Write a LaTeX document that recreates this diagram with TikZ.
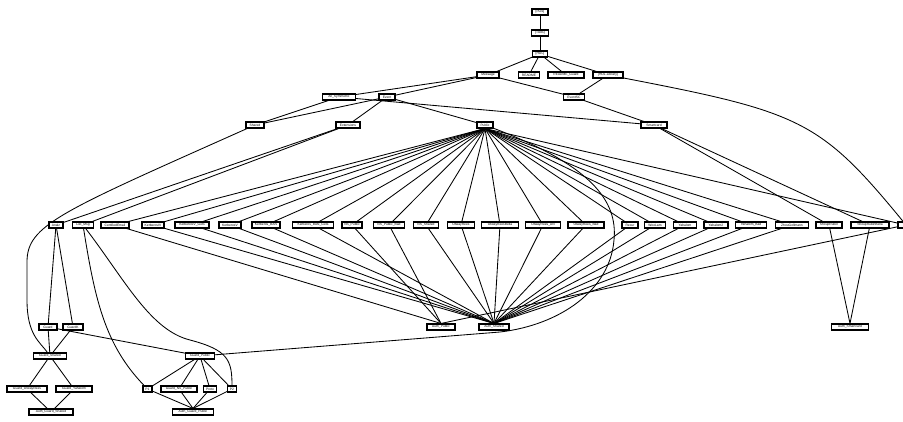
\documentclass[tikz,border=0pt]{standalone}
\usepackage{fontspec}
\setsansfont{Liberation Sans}
\usetikzlibrary{backgrounds}
\begin{document}
\begin{tikzpicture}[x=1pt,y=-1pt,
  nd/.style={draw, fill=white, line width=1.1pt, inner sep=0pt, minimum height=6pt,
    font=\fontsize{3.3}{3.3}\selectfont\sffamily},
  ed/.style={line width=0.85pt}]
\useasboundingbox (0,0) rectangle (903,421);
\clip (0,0) rectangle (903,421);
% top
\node[nd,minimum width=16pt] (Pure) at (540,12) {[Pure]};
\node[nd,minimum width=17pt] (Tools) at (540,33) {[Tools]};
\node[nd,minimum width=15pt] (HOL) at (540,54) {[HOL]};
\node[nd,minimum width=22pt] (Message) at (488,75) {Message};
\node[nd,minimum width=21pt] (README) at (529,75) {README};
\node[nd,minimum width=36pt] (READMEG) at (566,75) {README\_Guard};
\node[nd,minimum width=30pt] (HOLLib) at (608,75) {[HOL-Library]};
\node[nd,minimum width=33pt] (AllSym) at (339,97) {All\_Symmetric};
\node[nd,minimum width=16pt] (Event) at (387,97) {Event};
\node[nd,minimum width=21pt] (EventSC) at (574,97) {EventSC};
\node[nd,minimum width=18pt] (Shared) at (255,125) {Shared};
\node[nd,minimum width=24pt] (Ext) at (348,125) {Extensions};
\node[nd,minimum width=16pt] (Public) at (485,125) {Public};
\node[nd,minimum width=26pt] (Smartcard) at (654,125) {Smartcard};
% middle row
\node[nd,minimum width=14pt] (Analz) at (56,225) {Analz};
\node[nd,minimum width=21pt] (ListMsg) at (83,225) {List\_Msg};
\node[nd,minimum width=28pt] (CE) at (115,225) {CertifiedEmail};
\node[nd,minimum width=22pt] (KIV) at (153,225) {KerberosIV};
\node[nd,minimum width=34pt] (KIVG) at (192,225) {KerberosIV\_Gets};
\node[nd,minimum width=22pt] (KV) at (230,225) {KerberosV};
\node[nd,minimum width=28pt] (KB) at (266,225) {Kerberos\_BAN};
\node[nd,minimum width=41pt] (KBG) at (313,225) {Kerberos\_BAN\_Gets};
\node[nd,minimum width=20pt] (NSP) at (352,225) {NS\_Public};
\node[nd,minimum width=31pt] (NSPB) at (389,225) {NS\_Public\_Bad};
\node[nd,minimum width=25pt] (NSS) at (426,225) {NS\_Shared};
\node[nd,minimum width=27pt] (OR) at (461,225) {OtwayRees};
\node[nd,minimum width=37pt] (ORB) at (500,225) {OtwayReesBella};
\node[nd,minimum width=35pt] (ORAN) at (543,225) {OtwayRees\_AN};
\node[nd,minimum width=36pt] (ORBad) at (586,225) {OtwayRees\_Bad};
\node[nd,minimum width=16pt] (Recur) at (630,225) {Recur};
\node[nd,minimum width=21pt] (WL) at (655,225) {WooLam};
\node[nd,minimum width=23pt] (Ya) at (685,225) {Yahalom};
\node[nd,minimum width=24pt] (Ya2) at (716,225) {Yahalom2};
\node[nd,minimum width=31pt] (YaB) at (751,225) {Yahalom\_Bad};
\node[nd,minimum width=33pt] (ZG) at (792,225) {ZhouGollmann};
\node[nd,minimum width=26pt] (SR) at (829,225) {ShoupRubin};
\node[nd,minimum width=38pt] (SRB) at (870,225) {ShoupRubinBella};
\node[nd,minimum width=16pt] (TLS) at (906,225) {TLS};
% lower
\node[nd,minimum width=18pt] (Guard) at (48,327) {Guard};
\node[nd,minimum width=20pt] (GuardK) at (73,327) {GuardK};
\node[nd,minimum width=28pt] (AuthPublic) at (441,327) {Auth\_Public};
\node[nd,minimum width=30pt] (AuthShared) at (494,327) {Auth\_Shared};
\node[nd,minimum width=37pt] (AuthSC) at (850,327) {Auth\_Smartcard};
\node[nd,minimum width=33pt] (GShared) at (50,356) {Guard\_Shared};
\node[nd,minimum width=29pt] (GPublic) at (200,356) {Guard\_Public};
\node[nd,minimum width=40pt] (GOR) at (27,389) {Guard\_OtwayRees};
\node[nd,minimum width=36pt] (GYa) at (74,389) {Guard\_Yahalom};
\node[nd,minimum width=9pt] (P1) at (147.5,389) {P1};
\node[nd,minimum width=36pt] (GNSP) at (179,389) {Guard\_NS\_Public};
\node[nd,minimum width=13pt] (Proto) at (210,389) {Proto};
\node[nd,minimum width=9pt] (P2) at (232,389) {P2};
\node[nd,minimum width=44pt] (AGS) at (51,412) {Auth\_Guard\_Shared};
\node[nd,minimum width=41pt] (AGP) at (193,412) {Auth\_Guard\_Public};
\begin{scope}[on background layer]
\draw[ed] (Pure) -- (Tools);
\draw[ed] (Tools) -- (HOL);
\foreach \t in {Message,README,READMEG,HOLLib} \draw[ed] (HOL) -- (\t);
\foreach \t in {AllSym,Event,EventSC} \draw[ed] (Message) -- (\t);
\draw[ed] (HOLLib) -- (EventSC);
\draw[ed] (HOLLib) .. controls (800,112) and (820,120) .. (TLS);
\draw[ed] (AllSym) -- (Shared);
\draw[ed] (Event) -- (Shared);
\draw[ed] (AllSym) -- (Smartcard);
\draw[ed] (Event) -- (Ext);
\draw[ed] (Event) -- (Public);
\draw[ed] (EventSC) -- (Smartcard);
\draw[ed] (Shared) .. controls (60,212) and (27,225) .. (27,262) -- (27,300) .. controls (27,335) and (40,342) .. (GShared);
\draw[ed] (Ext) -- (Analz);
\draw[ed] (Ext) -- (ListMsg);
\foreach \t in {CE,KIV,KIVG,KV,KB,KBG,NSP,NSPB,NSS,OR,ORB,ORAN,ORBad,Recur,WL,Ya,Ya2,YaB,ZG,TLS}
  \draw[ed] (Public.south) -- (\t);
\draw[ed] (Public) .. controls (590,165) and (618,200) .. (614,240) .. controls (610,290) and (560,325) .. (500,332) -- (GPublic);
\draw[ed] (Smartcard) -- (SR);
\draw[ed] (Smartcard) -- (SRB);
\foreach \t in {CE,NSP,NSPB,TLS} \draw[ed] (\t) -- (AuthPublic.north);
\foreach \t in {KIV,KIVG,KV,KB,KBG,NSS,OR,ORB,ORAN,ORBad,Recur,WL,Ya,Ya2,YaB,ZG}
  \draw[ed] (\t) -- (AuthShared.north);
\draw[ed] (SR) -- (AuthSC.north);
\draw[ed] (SRB) -- (AuthSC.north);
\draw[ed] (Analz) -- (Guard);
\draw[ed] (Analz) -- (GuardK);
\draw[ed] (ListMsg) .. controls (95,300) and (105,345) .. (P1);
\draw[ed] (ListMsg) .. controls (125,280) and (150,330) .. (190,340) .. controls (228,350) and (232,360) .. (P2);
\draw[ed] (Guard) -- (GShared);
\draw[ed] (GuardK) -- (GShared);
\draw[ed] (Guard) -- (GPublic);
\draw[ed] (GShared) -- (GOR);
\draw[ed] (GShared) -- (GYa);
\draw[ed] (GOR) -- (AGS);
\draw[ed] (GYa) -- (AGS);
\foreach \t in {P1,GNSP,Proto,P2} {
  \draw[ed] (GPublic) -- (\t);
  \draw[ed] (\t) -- (AGP.north);
}
\end{scope}
\end{tikzpicture}
\end{document}
